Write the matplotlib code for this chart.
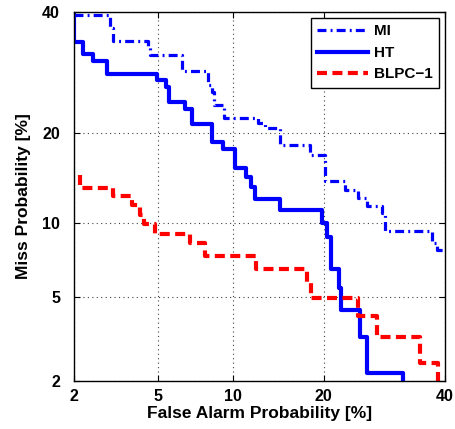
import numpy as np
import matplotlib
matplotlib.use("Agg")
import matplotlib.pyplot as plt
from statistics import NormalDist

# DET curves, false alarm / miss probabilities in percent (steps-post corners)
mi_fa = [2.0, 3.0, 3.1, 4.5, 4.6, 6.3, 8.0, 8.3, 8.5, 9.25, 12.3, 13.0, 14.6,
         18.2, 20.1, 23.0, 24.9, 26.4, 28.8, 29.3, 37.5, 38.5, 40.5]
mi_miss = [39.4, 37.0, 34.65, 33.6, 32.1, 29.4, 27.1, 26.0, 23.9, 22.1, 21.3,
           20.6, 18.35, 17.1, 14.0, 13.1, 12.3, 11.5, 10.85, 9.3, 8.35, 7.85, 7.3]

ht_fa = [2.0, 2.0, 2.23, 2.48, 2.93, 4.94, 5.4, 5.57, 6.5, 6.93, 8.31, 9.2,
         10.2, 11.1, 11.6, 12.0, 14.6, 19.8, 20.5, 21.0, 22.1, 22.4, 25.2,
         26.3, 32.4]
ht_miss = [41.0, 34.5, 32.3, 31.1, 28.9, 27.9, 26.8, 24.5, 23.4, 21.2, 18.8,
           17.8, 15.5, 14.5, 13.4, 12.2, 11.1, 10.0, 8.8, 6.6, 5.5, 4.4, 3.3,
           2.2, 1.9]

blpc_fa = [2.15, 2.15, 3.12, 3.83, 4.16, 4.34, 4.85, 6.8, 7.82, 12.1, 17.8,
           18.3, 25.0, 28.0, 35.4, 38.7]
blpc_miss = [14.7, 13.3, 12.5, 11.6, 10.65, 9.9, 9.1, 8.4, 7.45, 6.6, 5.77,
             4.96, 4.13, 3.3, 2.47, 1.9]

ticks = [2, 5, 10, 20, 40]

_nd = NormalDist()
_ppf = np.vectorize(lambda p: _nd.inv_cdf(min(max(p / 100.0, 1e-9), 1 - 1e-9)),
                    otypes=[float])
_cdf = np.vectorize(lambda z: _nd.cdf(z) * 100.0, otypes=[float])


def fwd(p):
    return _ppf(np.asarray(p, dtype=float))


def inv(z):
    return _cdf(np.asarray(z, dtype=float))


plt.rcParams["font.family"] = ["Liberation Sans", "DejaVu Sans"]
plt.rcParams["font.weight"] = "bold"

fig = plt.figure(figsize=(4.56, 4.29), dpi=100)
ax = fig.add_axes([74 / 456, 1 - 381 / 429, 371 / 456, 369 / 429])
ax.set_xscale("function", functions=(fwd, inv))
ax.set_yscale("function", functions=(fwd, inv))

ax.plot(mi_fa, mi_miss, drawstyle="steps-post", color="blue", lw=2.3,
        linestyle=(0, (2.8, 1.3, 0.6, 1.3)), label="MI")
ax.plot(ht_fa, ht_miss, drawstyle="steps-post", color="blue", lw=3,
        label="HT")
ax.plot(blpc_fa, blpc_miss, drawstyle="steps-post", color="red", lw=3,
        linestyle=(0, (2.4, 1.3)), label="BLPC\u22121")

ax.set_xlim(2, 40)
ax.set_ylim(2, 40)
ax.set_xticks(ticks)
ax.set_yticks(ticks)
ax.set_xticklabels([str(t) for t in ticks], fontsize=11.5, fontweight="bold")
ax.set_yticklabels([str(t) for t in ticks], fontsize=11.5, fontweight="bold")
ax.minorticks_off()
ax.tick_params(direction="in", top=True, right=True, length=4, width=0.8)
ax.tick_params(axis="y", pad=10)
ax.tick_params(axis="x", pad=6)
ax.grid(True, linestyle=(0, (1, 3)), color="0.25", lw=0.8)
for s in ax.spines.values():
    s.set_linewidth(1.0)

ax.set_xlabel("False Alarm Probability [%]", fontsize=12.5, fontweight="bold",
              labelpad=1)
ax.set_ylabel("Miss Probability [%]", fontsize=12.5, fontweight="bold",
              labelpad=8)

leg = ax.legend(loc="upper right", fontsize=11, fancybox=False,
                framealpha=1, edgecolor="black", handlelength=3.3,
                handletextpad=0.4, borderaxespad=0.4, labelspacing=0.5)
leg.get_frame().set_linewidth(1.0)
for t in leg.get_texts():
    t.set_fontweight("bold")

fig.savefig("out.png", dpi=100)
